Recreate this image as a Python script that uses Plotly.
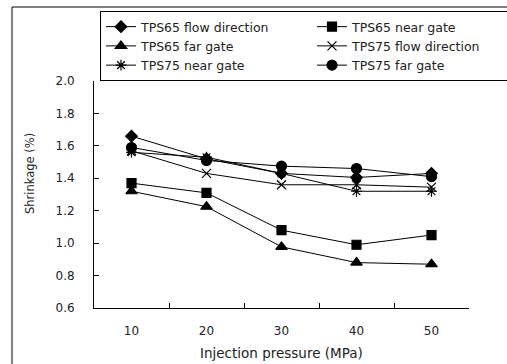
import plotly.graph_objects as go

pressures = ["10", "20", "30", "40", "50"]
tps65_flow = [1.66, 1.52, 1.43, 1.405, 1.43]
tps65_near = [1.37, 1.31, 1.08, 0.99, 1.05]
tps65_far = [1.32, 1.225, 0.977, 0.88, 0.87]
tps75_flow = [1.57, 1.43, 1.36, 1.36, 1.345]
tps75_near = [1.56, 1.53, 1.43, 1.32, 1.32]
tps75_far = [1.59, 1.51, 1.475, 1.46, 1.41]

names = ["TPS65 flow direction", "TPS65 near gate", "TPS65 far gate",
         "TPS75 flow direction", "TPS75 near gate", "TPS75 far gate"]
series = [tps65_flow, tps65_near, tps65_far, tps75_flow, tps75_near, tps75_far]
symbols = ["diamond", "square", "triangle-up", "x-thin-open", "asterisk-open", "circle"]
sizes = [9, 9, 10, 9, 9, 10]

W, H = 507, 364
L, R, T, B = 50, 0, 81, 56
PW = W - L - R
PH = H - T - B
plot_left, plot_right = 94, 469
dom = [(plot_left - L) / PW, (plot_right - L) / PW]

def px_x(p):
    return (p - L) / PW

def px_y(p):
    return (H - B - p) / PH

fig = go.Figure()
for name, vals, sym, sz in zip(names, series, symbols, sizes):
    fig.add_trace(go.Scatter(
        x=pressures, y=vals, name=name, mode="lines+markers",
        line=dict(color="black", width=1),
        marker=dict(symbol=sym, size=sz, color="black",
                    line=dict(color="black", width=1.2)),
    ))

font_fam = "DejaVu Sans"
txt = "#222"

fig.update_layout(
    width=W, height=H,
    margin=dict(l=L, r=R, t=T, b=B, autoexpand=False),
    paper_bgcolor="white", plot_bgcolor="white",
    font=dict(family=font_fam, color=txt, size=12),
    showlegend=True,
    legend=dict(
        orientation="h", x=px_x(100), y=px_y(11), xanchor="left", yanchor="top",
        bordercolor="black", borderwidth=1, bgcolor="white",
        font=dict(family=font_fam, size=12.5, color=txt),
        entrywidth=166, entrywidthmode="pixels",
        tracegroupgap=0, itemsizing="trace",
    ),
    xaxis=dict(
        type="category", domain=dom, range=[-0.5, 4.5],
        tickson="boundaries", ticks="inside", ticklen=5, tickcolor="black",
        showline=True, linecolor="black", linewidth=1, showgrid=False,
        tickfont=dict(size=12, color=txt), ticklabelstandoff=12,
    ),
    yaxis=dict(
        range=[0.6, 2.0], dtick=0.2, tick0=0.6, tickformat=".1f",
        ticks="inside", ticklen=5, tickcolor="black",
        showline=True, linecolor="black", linewidth=1, showgrid=False, zeroline=False,
        tickfont=dict(size=12, color=txt), ticklabelstandoff=16,
    ),
    shapes=[dict(type="rect", xref="paper", yref="paper",
                 x0=px_x(12), x1=px_x(520), y0=px_y(7), y1=px_y(380),
                 line=dict(color="black", width=1), layer="below")],
    annotations=[
        dict(text="Shrinkage (%)", textangle=-90, xref="paper", yref="paper",
             x=px_x(30), y=px_y(174), showarrow=False,
             xanchor="center", yanchor="middle", font=dict(size=11.5, color=txt)),
        dict(text="Injection pressure (MPa)", xref="x domain", yref="paper",
             x=0.5, y=px_y(353), showarrow=False,
             xanchor="center", yanchor="middle", font=dict(size=13.5, color=txt)),
    ],
)

fig.write_html("out.html")
